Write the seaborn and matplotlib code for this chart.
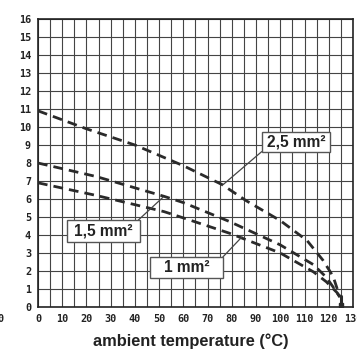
import numpy as np
import pandas as pd
import matplotlib
matplotlib.use("Agg")
import matplotlib.pyplot as plt
from matplotlib.patches import Rectangle
import seaborn as sb

# current derating curves
temp_25 = [0, 20, 40, 60, 76, 86, 100, 111, 117.6, 121.8, 124.6]
amps_25 = [10.9, 9.9, 9.0, 7.85, 6.8, 5.9, 4.8, 3.7, 2.6, 1.7, 0.55]

temp_15 = [0, 24, 52, 60, 79, 100, 113.7, 119, 123.4, 124.6]
amps_15 = [8.0, 7.25, 6.15, 5.8, 4.75, 3.45, 2.35, 1.65, 0.8, 0.55]

temp_1 = [0, 24, 52, 60, 79, 100, 113.7, 119, 123.4, 124.6]
amps_1 = [6.9, 6.2, 5.3, 4.95, 4.1, 3.0, 1.95, 1.4, 0.8, 0.55]

end_temp = [125, 125]
end_amps = [0.6, 0.0]

labels = ["2,5 mm²", "1,5 mm²", "1 mm²"]
x_ticks = list(range(0, 131, 10))
y_ticks = list(range(0, 17))

sb.set_style("white")

fig = plt.figure(figsize=(3.57, 3.49), dpi=100)
ax = fig.add_axes([0.1064, 0.1203, 0.8824, 0.8252])

# grid
for x in np.arange(0, 131, 5):
    ax.axvline(x, color="#444444", lw=0.8, zorder=1)
for y in y_ticks:
    ax.axhline(y, color="#444444", lw=0.8, zorder=1)

curves = [(temp_25, amps_25), (temp_15, amps_15), (temp_1, amps_1)]
for t, a in curves:
    df = pd.DataFrame({"t": t, "a": a})
    sb.lineplot(data=df, x="t", y="a", sort=False, ax=ax, color="#2a2a2a",
                lw=2.0, linestyle=(0, (3.5, 2.2)), zorder=3)
ax.plot(end_temp, end_amps, color="#2a2a2a", lw=2.2, zorder=3)
ax.plot([end_temp[1]], [0.1], marker="s", ms=3, color="#2a2a2a", zorder=4)

# label boxes (x0, x1, y0, y1) and pointer lines (layout)
boxes = [(92.3, 120.5, 8.63, 9.74), (11.8, 42.1, 3.63, 4.83), (46.2, 76.3, 1.61, 2.78)]
pointers = [((92.3, 8.63), (76.4, 6.8)),
            ((41.4, 4.83), (51.6, 6.1)),
            ((76.3, 2.78), (84.2, 3.9))]
for lab, (x0, x1, y0, y1), (p0, p1) in zip(labels, boxes, pointers):
    ax.plot([p0[0], p1[0]], [p0[1], p1[1]], color="#444444", lw=0.9, zorder=4)
    ax.add_patch(Rectangle((x0, y0), x1 - x0, y1 - y0, fc="white", ec="#555555",
                           lw=1.0, zorder=5))
    ax.text((x0 + x1) / 2, (y0 + y1) / 2, lab, ha="center", va="center",
            fontsize=11.2, fontweight="bold", family="Liberation Sans",
            color="#222222", zorder=6)

ax.set_xlim(0, 130)
ax.set_ylim(0, 16)
ax.set_xticks(x_ticks)
ax.set_yticks(y_ticks)
ax.set_xticklabels([str(v) for v in x_ticks], family="DejaVu Sans Mono",
                   fontweight="bold", fontsize=7.3, color="#222222")
ax.set_yticklabels([str(v) for v in y_ticks], family="DejaVu Sans Mono",
                   fontweight="bold", fontsize=7.3, color="#222222")
ax.tick_params(axis="both", length=0, pad=5)
ax.set_xlabel("ambient temperature (°C)", family="Liberation Sans", fontweight="bold",
              fontsize=11.8, color="#222222", va="center")
ax.xaxis.set_label_coords(0.486, -0.118)
ax.set_ylabel("")
for s in ax.spines.values():
    s.set_color("#222222")
    s.set_linewidth(1.2)
    s.set_visible(True)

# clipped label from the neighbouring chart
fig.text(0.0, 1 - 319 / 349, "0", family="DejaVu Sans Mono", fontweight="bold",
         fontsize=7.3, color="#222222", ha="center", va="center")

fig.savefig("out.png", dpi=100)
